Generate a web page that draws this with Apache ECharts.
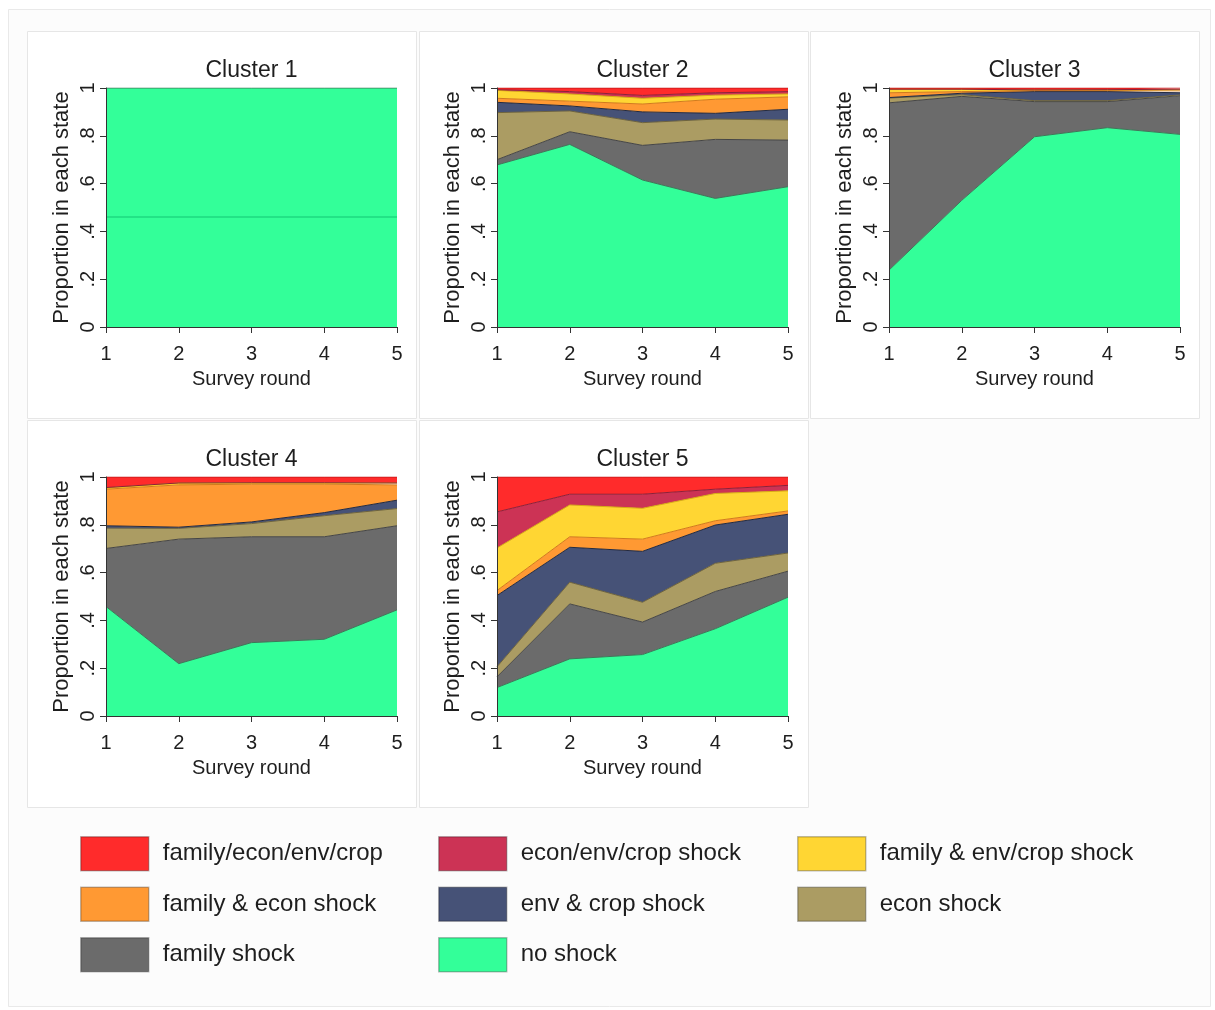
<!DOCTYPE html>
<html>
<head>
<meta charset="utf-8">
<script src="https://cdn.jsdelivr.net/npm/echarts@6/dist/echarts.min.js"></script>
<style>
html, body { margin: 0; padding: 0; background: #fff; }
#main { width: 1215px; height: 1010px; }
</style>
</head>
<body>
<div id="main"></div>
<script>
// x axis: survey rounds, y axis: proportion in each state
var rounds = ['1', '2', '3', '4', '5'];
var yTickLabels = ['0', '.2', '.4', '.6', '.8', '1'];
var clusterNames = ['Cluster 1', 'Cluster 2', 'Cluster 3', 'Cluster 4', 'Cluster 5'];

// states, stacked from the bottom up
var states = ['no shock', 'family shock', 'econ shock', 'env & crop shock',
    'family & econ shock', 'family & env/crop shock', 'econ/env/crop shock', 'family/econ/env/crop'];

// one row per state (same order as states), one value per round
var cluster1 = [
    [1, 1, 1, 1, 1],
    [0, 0, 0, 0, 0],
    [0, 0, 0, 0, 0],
    [0, 0, 0, 0, 0],
    [0, 0, 0, 0, 0],
    [0, 0, 0, 0, 0],
    [0, 0, 0, 0, 0],
    [0, 0, 0, 0, 0]
];
var cluster2 = [
    [0.678, 0.764, 0.615, 0.538, 0.587],
    [0.022, 0.053, 0.145, 0.247, 0.195],
    [0.197, 0.087, 0.095, 0.085, 0.084],
    [0.043, 0.021, 0.045, 0.024, 0.045],
    [0.017, 0.020, 0.033, 0.059, 0.052],
    [0.033, 0.030, 0.024, 0.017, 0.012],
    [0.003, 0.010, 0.012, 0.010, 0.010],
    [0.007, 0.015, 0.031, 0.020, 0.015]
];
var cluster3 = [
    [0.238, 0.530, 0.796, 0.834, 0.806],
    [0.700, 0.435, 0.147, 0.109, 0.162],
    [0.020, 0.007, 0.004, 0.004, 0.003],
    [0.002, 0.006, 0.038, 0.038, 0.009],
    [0.020, 0.007, 0.004, 0.004, 0.008],
    [0.015, 0.010, 0.003, 0.004, 0.005],
    [0.000, 0.000, 0.000, 0.000, 0.002],
    [0.005, 0.005, 0.008, 0.007, 0.005]
];
var cluster4 = [
    [0.458, 0.219, 0.307, 0.321, 0.444],
    [0.243, 0.521, 0.443, 0.429, 0.352],
    [0.085, 0.045, 0.055, 0.088, 0.072],
    [0.010, 0.005, 0.007, 0.013, 0.035],
    [0.153, 0.177, 0.158, 0.119, 0.064],
    [0.005, 0.008, 0.006, 0.006, 0.008],
    [0.002, 0.000, 0.000, 0.000, 0.000],
    [0.044, 0.025, 0.024, 0.024, 0.025]
];
var cluster5 = [
    [0.119, 0.239, 0.257, 0.365, 0.497],
    [0.045, 0.230, 0.136, 0.156, 0.109],
    [0.042, 0.091, 0.083, 0.118, 0.076],
    [0.298, 0.146, 0.213, 0.160, 0.162],
    [0.021, 0.044, 0.051, 0.018, 0.014],
    [0.178, 0.133, 0.129, 0.114, 0.084],
    [0.151, 0.045, 0.059, 0.018, 0.023],
    [0.146, 0.072, 0.072, 0.051, 0.035]
];
var cluster1Line = 0.46; // faint line visible in cluster 1

// legend columns, read top to bottom
var legendCols = [
    ['family/econ/env/crop', 'family & econ shock', 'family shock'],
    ['econ/env/crop shock', 'env & crop shock', 'no shock'],
    ['family & env/crop shock', 'econ shock']
];

var fillColors = ['#33ff99', '#6b6b6b', '#ab9c63', '#465277', '#ff9933', '#ffd633', '#cc3355', '#ff2b2b'];
var lineColors = ['#3a7a58', '#454545', '#6f643c', '#232a40', '#d27a1c', '#d8ac12', '#8e1f38', '#c41818'];

var clusters = [cluster1, cluster2, cluster3, cluster4, cluster5];
var FONT = '"Liberation Sans", Arial, sans-serif';
var TXT = '#1e1e1e';

// panel layout
var plotPos = [[106, 88], [497, 88], [889, 88], [106, 477], [497, 477]];
var panelPos = [[27, 31], [419, 31], [810, 31], [27, 420], [419, 420]];
var PW = 291, PH = 239;

var grids = [], xAxes = [], yAxes = [], titles = [], graphics = [];

graphics.push({
    type: 'rect', z: -10, silent: true,
    shape: { x: 8.5, y: 9.5, width: 1202, height: 997 },
    style: { fill: '#fcfcfc', stroke: '#e9e9e9', lineWidth: 1 }
});

plotPos.forEach(function (p, i) {
    graphics.push({
        type: 'rect', z: -9, silent: true,
        shape: { x: panelPos[i][0] + 0.5, y: panelPos[i][1] + 0.5, width: 389, height: 387 },
        style: { fill: '#ffffff', stroke: '#e6e6e6', lineWidth: 1 }
    });
    grids.push({ left: p[0], top: p[1], width: PW, height: PH });
    titles.push({
        text: clusterNames[i],
        left: p[0] + PW / 2, top: p[1] - 29, textAlign: 'center',
        padding: 0,
        textStyle: { fontFamily: FONT, fontSize: 23, fontWeight: 'normal', color: TXT }
    });
    xAxes.push({
        type: 'category', gridIndex: i, data: rounds, boundaryGap: false, z: 5,
        name: 'Survey round', nameLocation: 'middle', nameGap: 42,
        nameTextStyle: { fontFamily: FONT, fontSize: 20, color: TXT },
        axisLine: { show: true, onZero: false, lineStyle: { color: '#333', width: 1 } },
        axisTick: { show: true, length: 6, lineStyle: { color: '#333' } },
        axisLabel: { fontFamily: FONT, fontSize: 20, color: TXT, margin: 17 },
        splitLine: { show: false }
    });
    yAxes.push({
        type: 'value', gridIndex: i, min: 0, max: 1, interval: 0.2, z: 5,
        name: 'Proportion in each state', nameLocation: 'middle', nameGap: 33, nameRotate: 90,
        nameTextStyle: { fontFamily: FONT, fontSize: 22, color: TXT },
        axisLine: { show: true, lineStyle: { color: '#333', width: 1 } },
        axisTick: { show: true, length: 6, lineStyle: { color: '#333' } },
        axisLabel: {
            fontFamily: FONT, fontSize: 20, color: TXT, rotate: 90, margin: 8,
            formatter: function (v) { return yTickLabels[Math.round(v * 5)]; }
        },
        splitLine: { show: false }
    });
});

var series = [];
clusters.forEach(function (cl, ci) {
    cl.forEach(function (vals, si) {
        var hasData = vals.some(function (v) { return v > 0; });
        var s = {
            name: states[si],
            type: 'line',
            stack: 'c' + ci,
            xAxisIndex: ci,
            yAxisIndex: ci,
            data: vals,
            symbol: 'none',
            silent: true,
            itemStyle: { color: fillColors[si] },
            lineStyle: { color: lineColors[si], width: hasData ? 1 : 0 },
            areaStyle: { color: fillColors[si], opacity: 1 }
        };
        if (ci === 0 && si === 0) {
            s.markLine = {
                silent: true, symbol: 'none', label: { show: false },
                lineStyle: { color: '#22e386', width: 2, type: 'solid' },
                data: [{ yAxis: cluster1Line }]
            };
        }
        series.push(s);
    });
});

var legendLeft = [80, 438, 797];
var legends = legendCols.map(function (col, i) {
    return {
        data: col,
        orient: 'vertical',
        left: legendLeft[i], top: 836,
        padding: 0,
        itemWidth: 68, itemHeight: 34, itemGap: 15,
        icon: 'rect',
        selectedMode: false,
        itemStyle: { borderWidth: 1.5, borderColor: 'rgba(0,0,0,0.25)' },
        textStyle: { fontFamily: FONT, fontSize: 24, color: TXT, padding: [2, 0, 0, 9] }
    };
});

var chart = echarts.init(document.getElementById('main'), null, { renderer: 'canvas' });
chart.setOption({
    backgroundColor: '#ffffff',
    animation: false,
    title: titles,
    grid: grids,
    xAxis: xAxes,
    yAxis: yAxes,
    legend: legends,
    graphic: graphics,
    series: series
});
</script>
</body>
</html>
